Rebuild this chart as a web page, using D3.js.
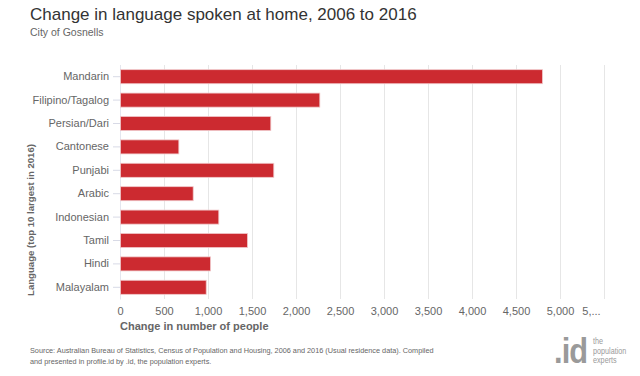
<!DOCTYPE html>
<html>
<head>
<meta charset="utf-8">
<script src="https://cdn.jsdelivr.net/npm/d3@7"></script>
<style>
  body { margin: 0; background: #fff; }
  svg { font-family: "Liberation Sans", Arial, sans-serif; display: block; }
  .tick-lines line { stroke: #e6e6e6; }
  .axis text { fill: #666; font-size: 11px; }
</style>
</head>
<body>
<svg id="chart"></svg>
<script>
const languages = ['Mandarin', 'Filipino/Tagalog', 'Persian/Dari', 'Cantonese', 'Punjabi',
  'Arabic', 'Indonesian', 'Tamil', 'Hindi', 'Malayalam'];
const changes = [4795, 2265, 1708, 663, 1742, 826, 1117, 1443, 1023, 974];
const xTicks = [0, 500, 1000, 1500, 2000, 2500, 3000, 3500, 4000, 4500, 5000, 5500];
const xTickLabels = ['0', '500', '1,000', '1,500', '2,000', '2,500', '3,000', '3,500',
  '4,000', '4,500', '5,000', '5,...'];

const data = languages.map((d, i) => ({ name: d, value: changes[i] }));

const width = 640;
const height = 376;
const plot = { left: 120, right: 604, top: 65, bottom: 299 };

const svg = d3.select('#chart').attr('width', width).attr('height', height);

const x = d3.scaleLinear()
  .domain([0, 5500])
  .range([plot.left, plot.right]);
const y = d3.scaleBand()
  .domain(languages)
  .range([plot.top, plot.bottom])
  .paddingInner(0.4)
  .paddingOuter(0.2);

// Grid lines
svg.append('g')
  .attr('class', 'tick-lines')
  .attr('transform', `translate(0, ${plot.top})`)
  .call(d3.axisBottom(x).tickValues(xTicks).tickSize(plot.bottom - plot.top).tickFormat(''))
  .call(g => g.select('.domain').remove());

// X axis labels
svg.append('g')
  .attr('class', 'axis')
  .attr('transform', `translate(0, ${plot.bottom})`)
  .call(d3.axisBottom(x).tickValues(xTicks).tickSize(0).tickPadding(8)
    .tickFormat((d, i) => xTickLabels[i]))
  .call(g => g.select('.domain').remove())
  .call(g => g.selectAll('.tick text').filter(d => d === 5500).attr('dx', -13));

// Y axis
svg.append('g')
  .attr('class', 'axis y')
  .attr('transform', `translate(${plot.left}, 0)`)
  .call(d3.axisLeft(y).tickSizeInner(7).tickSizeOuter(0).tickPadding(4))
  .call(g => g.select('.domain').attr('stroke', '#e4e6ef'))
  .call(g => g.selectAll('.tick line').attr('stroke', '#d8dae6'));

// Bars
svg.selectAll('.bar')
  .data(data)
  .enter().append('rect')
    .attr('class', 'bar')
    .attr('fill', '#cc2a30')
    .attr('stroke', '#f0c8ca')
    .attr('stroke-width', 0.8)
    .attr('x', x(0) + 0.5)
    .attr('y', d => y(d.name))
    .attr('width', d => x(d.value) - x(0))
    .attr('height', y.bandwidth());

// Axis titles
svg.append('text')
  .attr('x', plot.left)
  .attr('y', 330)
  .attr('font-size', 11)
  .attr('font-weight', 'bold')
  .attr('fill', '#666')
  .text('Change in number of people');

svg.append('text')
  .attr('transform', 'translate(34, 220) rotate(-90)')
  .attr('text-anchor', 'middle')
  .attr('font-size', 9.6)
  .attr('font-weight', 'bold')
  .attr('fill', '#666')
  .text('Language (top 10 largest in 2016)');

// Title, subtitle
svg.append('text')
  .attr('x', 30)
  .attr('y', 20)
  .attr('font-size', 17)
  .attr('fill', '#333')
  .text('Change in language spoken at home, 2006 to 2016');

svg.append('text')
  .attr('x', 30)
  .attr('y', 36)
  .attr('font-size', 10.5)
  .attr('fill', '#666')
  .text('City of Gosnells');

// Source
const sourceLines = [
  'Source: Australian Bureau of Statistics, Census of Population and Housing, 2006 and 2016 (Usual residence data). Compiled',
  'and presented in profile.id by .id, the population experts.'
];
sourceLines.forEach((t, i) => {
  svg.append('text')
    .attr('x', 30)
    .attr('y', 353 + i * 10.5)
    .attr('font-size', 7.3)
    .attr('fill', '#666')
    .text(t);
});

// Logo
svg.append('text')
  .attr('transform', 'translate(554, 363) scale(0.88, 1)')
  .attr('font-size', 35)
  .attr('font-weight', 'bold')
  .attr('letter-spacing', -1)
  .attr('fill', '#9a9a9a')
  .text('.id');
['the', 'population', 'experts'].forEach((t, i) => {
  svg.append('text')
    .attr('transform', `translate(593, ${344 + i * 9.5}) scale(0.85, 1)`)
    .attr('font-size', 8.5)
    .attr('fill', '#9a9a9a')
    .text(t);
});
</script>
</body>
</html>
